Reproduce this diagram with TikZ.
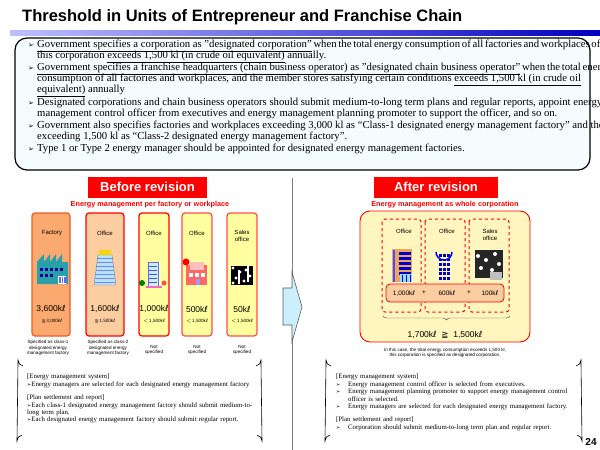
\documentclass[tikz,border=0pt]{standalone}
\usepackage{fontspec}
\setmainfont{Liberation Serif}
\setsansfont{Liberation Sans}
\newfontfamily\dv{DejaVu Sans}
\usetikzlibrary{decorations.pathreplacing}
\definecolor{redbox}{RGB}{255,0,0}
\definecolor{orf}{RGB}{250,170,110}
\definecolor{ord}{RGB}{240,90,40}
\definecolor{peach}{RGB}{252,205,160}
\definecolor{yel}{RGB}{255,255,160}
\definecolor{yel2}{RGB}{255,245,190}
\definecolor{teal2}{RGB}{40,160,170}
\newcommand{\kl}{k{\dv ℓ}}
\begin{document}
\begin{tikzpicture}[x=1pt,y=-1pt,
  tl/.style={anchor=west,inner sep=0pt,font=\fontsize{10.7}{11}\selectfont},
  redhead/.style={fill=redbox,text=white,font=\sffamily\bfseries\fontsize{13}{14}\selectfont,inner sep=0pt},
  sub/.style={text=redbox,font=\sffamily\bfseries\fontsize{7.3}{8}\selectfont,inner sep=0pt},
  col/.style={rounded corners=3pt,line width=1.2pt},
  sm/.style={font=\sffamily\fontsize{6}{6.5}\selectfont,inner sep=0pt,align=center},
  val/.style={font=\sffamily\fontsize{8.5}{9}\selectfont,inner sep=0pt},
  lt/.style={font=\sffamily\fontsize{4.6}{5.2}\selectfont,inner sep=0pt,align=center},
  bt/.style={anchor=north west,inner sep=0pt,font=\fontsize{6.8}{7.4}\selectfont,align=left},
  win/.style={fill=blue!80!black,draw=none}]
\useasboundingbox (0,0) rectangle (600,450);
\fill[white] (0,0) rectangle (600,450);
% title
\node[anchor=west,inner sep=0pt,font=\sffamily\bfseries\fontsize{16.5}{18}\selectfont] (title) at (22,17) {Threshold in Units of Entrepreneur and Franchise Chain};
\shade[left color=blue!25,right color=blue!75!black] (10,30) rectangle (600,35);
% top box
\draw[line width=1.2pt,fill=cyan!4,rounded corners=12pt] (15,38) rectangle (590,170);
\def\bl{\hbox to 9pt{\dv\fontsize{7}{8}\selectfont ➢\hss}}
\node[tl] (l1) at (28,46) {\bl\makebox[546pt][s]{\underline{Government specifies a corporation as "designated corporation"} when the total energy consumption of all factories and workplaces of}};
\node[tl] (l2) at (37,57) {this corporation \underline{exceeds 1,500 kl (in crude oil equivalent)} annually.};
\node[tl] (l3) at (28,69) {\bl\makebox[549pt][s]{\underline{Government specifies a franchise headquarters (chain business operator) as "designated chain business operator"} when the total energy}};
\node[tl] (l4) at (37,80) {consumption of all factories and workplaces, and the member stores satisfying certain conditions \underline{exceeds 1,500 kl (in crude oil}};
\node[tl] (l5) at (37,91) {\underline{equivalent)} annually};
\node[tl] (l6) at (28,103) {\bl Designated corporations and chain business operators should submit medium-to-long term plans and regular reports, appoint energy};
\node[tl] (l7) at (37,114) {management control officer from executives and energy management planning promoter to support the officer, and so on.};
\node[tl] (l8) at (28,126) {\bl Government also specifies factories and workplaces exceeding 3,000 kl as ``Class-1 designated energy management factory'' and those};
\node[tl] (l9) at (37,137) {exceeding 1,500 kl as ``Class-2 designated energy management factory''.};
\node[tl] (l10) at (28,149) {\bl Type 1 or Type 2 energy manager should be appointed for designated energy management factories.};
% divider
\draw[gray,line width=0.8pt] (292,178) -- (292,450);
% headers
\node[redhead,minimum width=119pt,minimum height=21pt] (bh) at (147.5,187) {Before revision};
\node[redhead,minimum width=124pt,minimum height=21pt] (ah) at (436,187) {After revision};
\node[sub] (bs) at (150,205) {Energy management per factory or workplace};
\node[sub] (as) at (445,205) {Energy management as whole corporation};
% before columns
\draw[col,fill=orf,draw=ord] (32,213) rectangle (70,336);
\draw[col,fill=peach,draw=redbox] (86,213) rectangle (124,336);
\draw[col,fill=yel,draw=redbox] (139,213) rectangle (169,336);
\draw[col,fill=yel,draw=redbox!70] (182,213) rectangle (212,336);
\draw[col,fill=yel,draw=redbox!70] (227,213) rectangle (257,336);
\node[sm] (c1) at (52,233) {Factory};
\node[sm] (c2) at (105,233) {Office};
\node[sm] (c3) at (154,233) {Office};
\node[sm] (c4) at (197,233) {Office};
\node[sm] (c5) at (242,236) {Sales\\office};
% factory icon
\fill[teal2] (37,284) -- (37,262) -- (44,254) -- (44,262) -- (50,254) -- (50,262) -- (56,254) -- (56,262) -- (62,254) -- (62,262) -- (68,262) -- (68,284) -- cycle;
\foreach \i in {0,...,4} \fill[blue!60!black] (40+\i*5,268) rectangle ++(3,3);
\foreach \i in {0,...,2} \fill[blue!60!black] (40+\i*5,274) rectangle ++(3,3);
\fill[white] (58,276) rectangle (66,284); \foreach \i in {0,1,2} \fill[blue!60] (59+\i*2.5,277) rectangle ++(1.6,6);
% office 1 (tower)
\fill[cyan!30] (98,255) -- (112,255) -- (116,285) -- (94,285) -- cycle;
\foreach \j in {0,...,6} \draw[blue!50,line width=0.6pt] (97-\j*0.4,258+\j*4) -- (113+\j*0.4,258+\j*4);
\draw[gray] (98,255) -- (112,255) -- (116,285) -- (94,285) -- cycle;
\fill[yellow!70!orange] (99,250) rectangle (111,255);
% office 2
\fill[cyan!20] (148,262) rectangle (158,286);\draw[blue!60] (148,262) rectangle (158,286);
\foreach \j in {0,...,4} \draw[blue!70] (149,266+\j*4) -- (157,266+\j*4);
\fill[green!50!black] (142,283) circle (3); \fill[red!70] (164,283) circle (2.5);
\fill[magenta!60] (146,286) rectangle (162,288);
% office 3
\fill[red!60] (186,265) rectangle (207,285);
\fill[pink] (190,262) rectangle (204,270);
\foreach \i in {0,1,2} \fill[white] (189+\i*6,273) rectangle ++(4,4);
\fill[red] (186,262) circle (3.5);
\fill[blue!40] (196,279) rectangle (200,285);
% sales office
\fill[black] (231,266) rectangle (253,285);
\foreach \i/\j in {233/268,240/272,246/270,236/278,244/281,250/276,233/283} \fill[white] (\i,\j) circle (1.6);
\fill[white] (238,270) rectangle (240,284); \fill[white] (247,265) rectangle (248.5,282);
% values
\node[val] (v1) at (51,309) {3,600\kl};
\node[val] (v2) at (105,309) {1,600\kl};
\node[val] (v3) at (154,309) {1,000\kl};
\node[val] (v4) at (197,309) {500\kl};
\node[val] (v5) at (242,309) {50\kl};
\node[lt] (s1) at (52,321) {{\dv≧}\,3,000\kl};
\node[lt] (s2) at (105,321) {{\dv≧}\,1,500\kl};
\node[lt] (s3) at (154,321) {$<$\,1,500\kl};
\node[lt] (s4) at (197,321) {$<$\,1,500\kl};
\node[lt] (s5) at (242,321) {$<$\,1,500\kl};
\node[lt] (b1) at (48,348) {Specified as class-1\\designated energy\\management factory};
\node[lt] (b2) at (108,348) {Specified as class-2\\designated energy\\management factory};
\node[lt] (b3) at (154,350) {Not\\specified};
\node[lt] (b4) at (197,350) {Not\\specified};
\node[lt] (b5) at (242,350) {Not\\specified};
% big arrow
\draw[gray!70!black,fill=cyan!20,line width=0.6pt] (283,288) -- (292,288) -- (292,272) -- (302,307) -- (292,342) -- (292,325) -- (283,325) -- cycle;
% after
\draw[rounded corners=10pt,line width=0.9pt,draw=redbox,fill=yel2] (360,211) rectangle (530,342);
\draw[dashed,line width=1pt,draw=redbox,rounded corners=3pt] (382,219) rectangle (421,312);
\draw[dashed,line width=1pt,draw=redbox,rounded corners=3pt] (425,219) rectangle (465,312);
\draw[dashed,line width=1pt,draw=redbox,rounded corners=3pt] (469,219) rectangle (509,312);
\node[sm] (a1) at (404,231) {Office};
\node[sm] (a2) at (447,231) {Office};
\node[sm] (a3) at (490,235) {Sales\\office};
% icons after
\fill[orange!60!brown!70] (392,249) rectangle (412,282);
\fill[blue!70] (393,250) rectangle (395,282);
\foreach \j in {0,...,4} \fill[win] (399,252+\j*5) rectangle ++(12,2.5);
\fill[cyan!40] (400,274) rectangle (412,282); \foreach \i in {0,1,2} \draw[blue] (402+\i*4,275) -- (402+\i*4,282);
\draw[blue,line width=1.5pt] (436,252) arc (180:0:8);
\foreach \i in {0,1,2} \foreach \j in {0,...,5} \fill[win] (439+\i*4,254+\j*4.6) rectangle ++(2.5,2.8);
\fill[black!85] (475,250) rectangle (503,278);
\foreach \i/\j in {478/256,486/260,495/254,481/268,492/270,499/264} \fill[white] (\i,\j) circle (2);
\fill[gray!50] (490,272) rectangle (502,280);
% values bar
\draw[rounded corners=4pt,line width=0.8pt,draw=redbox,fill=peach] (386,284) rectangle (504,302);
\node[val,font=\sffamily\fontsize{6.5}{7}\selectfont] (av1) at (404,293) {1,000\kl};
\node[val,font=\sffamily\fontsize{6.5}{7}\selectfont] (ap1) at (424,293) {+};
\node[val,font=\sffamily\fontsize{6.5}{7}\selectfont] (av2) at (447,293) {600\kl};
\node[val,font=\sffamily\fontsize{6.5}{7}\selectfont] (ap2) at (469,293) {+};
\node[val,font=\sffamily\fontsize{6.5}{7}\selectfont] (av3) at (490,293) {100\kl};
\draw[decorate,decoration={brace,amplitude=4pt,mirror},gray!70!black] (383,316) -- (510,316);
\node[val] (tot) at (445,335) {1,700\kl\ \ {\dv≧}\ \ 1,500\kl};
\node[lt] (cap) at (445,353) {In this case, the total energy consumption exceeds 1,500 kl,\\this corporation is specified as designated corporation.};
% bottom boxes
\draw[line width=0.6pt] (23,366) arc[start angle=100,end angle=180,radius=6] -- (17,441) arc[start angle=180,end angle=260,radius=6];
\draw[line width=0.6pt] (256,366) arc[start angle=80,end angle=0,radius=6] -- (262,441) arc[start angle=0,end angle=-80,radius=6];
\draw[line width=0.6pt] (331,366) arc[start angle=100,end angle=180,radius=6] -- (325,441) arc[start angle=180,end angle=260,radius=6];
\draw[line width=0.6pt] (576,366) arc[start angle=80,end angle=0,radius=6] -- (582,441) arc[start angle=0,end angle=-80,radius=6];
\def\sb{{\dv\fontsize{5}{6}\selectfont ➢}}
\node[bt,text width=232pt] (bl) at (27,374) {[Energy management system]\\\sb Energy managers are selected for each designated energy management factory\\[6pt][Plan settlement and report]\\\sb Each class-1 designated energy management factory should submit medium-to-\\long term plan.\\\sb Each designated energy management factory should submit regular report.};
\node[bt,text width=240pt] (br) at (336,374) {[Energy management system]\\
\makebox[12pt][l]{\sb}Energy management control officer is selected from executives.\\
\makebox[12pt][l]{\sb}Energy management planning promoter to support energy management control\\
\hspace*{12pt}officer is selected.\\
\makebox[12pt][l]{\sb}Energy managers are selected for each designated energy management factory.\\[6pt]
[Plan settlement and report]\\
\makebox[12pt][l]{\sb}Corporation should submit medium-to-long term plan and regular report.};
\node[font=\sffamily\bfseries\fontsize{10}{11}\selectfont,inner sep=0pt] (pg) at (591,442) {24};
\end{tikzpicture}
\end{document}
